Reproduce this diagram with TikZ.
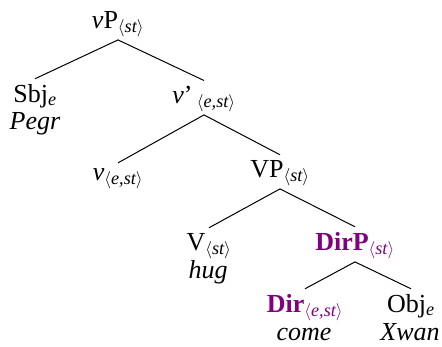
\documentclass[tikz,border=0pt]{standalone}
\usepackage{amsmath}
\usepackage{fontspec}
\setmainfont{Liberation Serif}
\definecolor{dirpurple}{RGB}{128,0,128}
\begin{document}
\begin{tikzpicture}[x=1pt,y=-1pt,
  lab/.style={font=\fontsize{26}{30}\selectfont, inner sep=0pt, anchor=base},
  hl/.style={lab, text=dirpurple},
  br/.style={line width=1pt}]
\useasboundingbox[fill=white] (0,0) rectangle (442,346);
\node[lab] (vP) at (118,28) {\textit{v}P$_{\langle\textit{st}\rangle}$};
\node[lab] (Sbj) at (35,102) {Sbj$_{\textit{e}}$};
\node[lab] (Pegr) at (35,129) {\textit{Pegr}};
\node[lab] (vbar) at (204,103) {\textit{v}’\,$_{\langle\textit{e,st}\rangle}$};
\node[lab] (v) at (118,180) {\textit{v}$_{\langle\textit{e,st}\rangle}$};
\node[lab] (VP) at (280,177) {VP$_{\langle\textit{st}\rangle}$};
\node[lab] (V) at (209,250) {V$_{\langle\textit{st}\rangle}$};
\node[lab] (hug) at (208,278) {\textit{hug}};
\node[hl] (DirP) at (355,250) {\textbf{DirP}$_{\langle\textit{st}\rangle}$};
\node[hl] (Dir) at (305,312) {\textbf{Dir}$_{\langle\textit{e,st}\rangle}$};
\node[lab] (come) at (304,340) {\textit{come}};
\node[lab] (Obj) at (411,312) {Obj$_{\textit{e}}$};
\node[lab] (Xwan) at (410,340) {\textit{Xwan}};
\foreach \p/\c in {vP/Sbj, vP/vbar, vbar/v, vbar/VP, VP/V, VP/DirP, DirP/Dir, DirP/Obj}
  \draw[br] ([yshift=-3pt]\p.south) -- ([yshift=5pt]\c.north);
\end{tikzpicture}
\end{document}
